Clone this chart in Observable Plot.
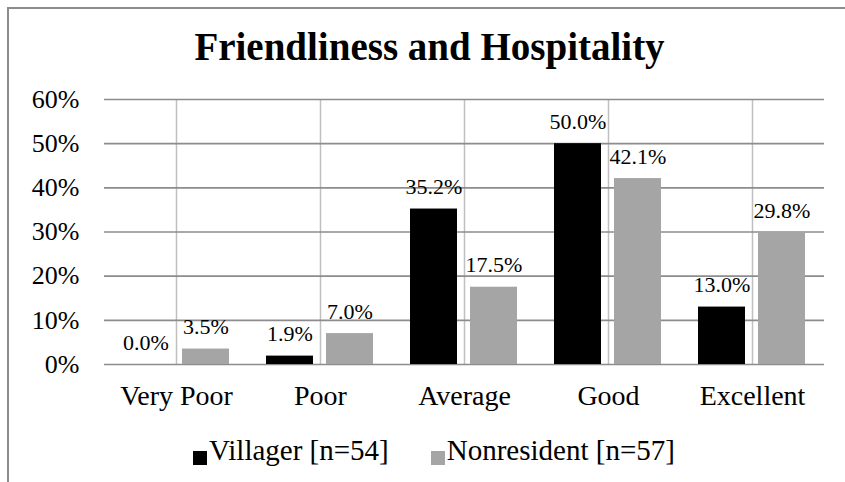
<!DOCTYPE html>
<html>
<head>
<meta charset="utf-8">
<script src="https://cdn.jsdelivr.net/npm/d3@7"></script>
<script src="https://cdn.jsdelivr.net/npm/@observablehq/plot@0.6"></script>
<style>
  html, body { margin: 0; padding: 0; background: #fff; width: 845px; height: 482px; overflow: hidden; }
  #frame { position: absolute; left: 7px; top: 7px; width: 1000px; height: 700px;
           border-left: 2px solid #8c8c8c; border-top: 2px solid #8c8c8c; }
  #chart { position: absolute; left: 0; top: 0; width: 845px; }
  #title { box-sizing: border-box; height: 70px; padding-top: 27px; width: 859px;
           text-align: center; font-family: "Liberation Serif", serif; font-weight: bold;
           font-size: 39px; line-height: 39px; color: #000; white-space: nowrap; }
  #legend { box-sizing: border-box; width: 868px; padding-top: 21px; display: flex; justify-content: center;
            font-family: "Liberation Serif", serif; font-size: 29px; line-height: 29px; color: #000; white-space: nowrap; }
  .item { display: inline-flex; align-items: baseline; margin: 0 21px; }
  .sw { display: inline-block; width: 14px; height: 14px; margin-right: 2px; position: relative; top: 5px; }
</style>
</head>
<body>
<div id="frame"></div>
<div id="chart">
  <div id="title"></div>
  <div id="plot"></div>
  <div id="legend"></div>
</div>
<script>
const title = "Friendliness and Hospitality";
const categories = ["Very Poor", "Poor", "Average", "Good", "Excellent"];
const seriesNames = ["Villager [n=54]", "Nonresident [n=57]"];
const villager = [0.0, 1.9, 35.2, 50.0, 13.0];
const nonresident = [3.5, 7.0, 17.5, 42.1, 29.8];
const yTicks = [0, 10, 20, 30, 40, 50, 60];
const colors = ["#000000", "#a5a5a5"];

const data = [];
categories.forEach((c, i) => {
  data.push({category: c, series: seriesNames[0], value: villager[i]});
  data.push({category: c, series: seriesNames[1], value: nonresident[i]});
});

document.getElementById("title").textContent = title;

const chart = Plot.plot({
  width: 845,
  height: 345,
  marginTop: 29,
  marginBottom: 51,
  marginLeft: 103,
  marginRight: 20,
  style: {fontFamily: "Liberation Serif, serif", color: "#000", background: "transparent"},
  fx: {domain: categories, padding: 0, label: null},
  x: {domain: seriesNames, paddingInner: 0.211, paddingOuter: 0.305, axis: null},
  y: {domain: [0, 60], label: null},
  color: {domain: seriesNames, range: colors},
  marks: [
    Plot.ruleX(categories, {fx: d => d, x: null, stroke: "#c0c0c0", strokeWidth: 1.5}),
    Plot.ruleY(yTicks, {y: d => d, stroke: "#8c8c8c", strokeWidth: 1.6}),
    Plot.axisY({ticks: yTicks, tickFormat: d => d + "%", tickSize: 0, tickPadding: 25, fontSize: 26, label: null}),
    Plot.axisFx({anchor: "bottom", tickSize: 0, tickPadding: 21, fontSize: 28, label: null}),
    Plot.barY(data, {fx: "category", x: "series", y: "value", fill: "series"}),
    Plot.text(data, {fx: "category", x: "series", y: "value", text: d => d.value.toFixed(1) + "%",
      lineAnchor: "bottom", dy: -15, fontSize: 22, fill: "#000"})
  ]
});
chart.querySelectorAll("text").forEach(t => t.style.fontFamily = "Liberation Serif, serif");
document.getElementById("plot").appendChild(chart);

const legend = document.getElementById("legend");
seriesNames.forEach((s, i) => {
  const item = document.createElement("span");
  item.className = "item";
  const sw = document.createElement("span");
  sw.className = "sw";
  sw.style.background = colors[i];
  item.appendChild(sw);
  item.appendChild(document.createTextNode(s));
  legend.appendChild(item);
});
</script>
</body>
</html>
